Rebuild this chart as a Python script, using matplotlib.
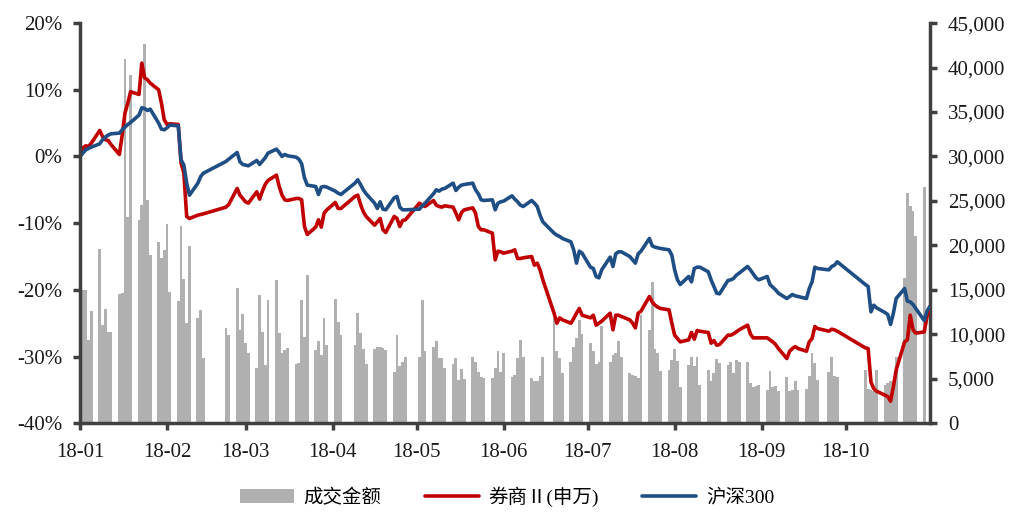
import numpy as np
import pandas as pd
import matplotlib
matplotlib.use("Agg")
import matplotlib.pyplot as plt
import matplotlib.dates as mdates
from matplotlib.ticker import FuncFormatter, MultipleLocator

plt.rcParams['font.family'] = ['Liberation Serif', 'Noto Sans CJK SC', 'DejaVu Sans']

# 交易日（2018-01 ~ 2018-10）
holidays = ["2018-02-15", "2018-02-16", "2018-02-19", "2018-02-20", "2018-02-21",
            "2018-04-05", "2018-04-06", "2018-04-30", "2018-05-01", "2018-06-18",
            "2018-09-24", "2018-10-01", "2018-10-02", "2018-10-03", "2018-10-04", "2018-10-05"]
days = pd.bdate_range("2018-01-02", "2018-10-31")
days = days[~days.isin(pd.to_datetime(holidays))]

# 成交金额（亿元）
turnover = [
    15000, 15000, 9400, 12600, 19600, 11000, 12900, 10300, 10300, 14500, 14600, 41000, 23200, 39200,
    22900, 24500, 42700, 25100, 18900, 20400, 18600, 19500,
    22400, 14800, 13800, 22200, 16200, 11300, 19900, 11800, 12700, 7300, 10700, 9900, 15200, 10500, 12300,
    9000, 7900, 6200, 14400, 10300, 6600, 13900, 16100, 10100, 7900, 8200, 8500, 6700, 6800, 13900,
    9700, 16700, 8200, 9200, 7700, 11800, 8800,
    14000, 11400, 9900, 8800, 12400, 10100, 8400, 6700, 8400, 8600, 8600, 8500, 8200, 5800, 9900, 6400, 6900, 7400,
    7500, 13900, 8100, 8600, 9200, 7300, 7300, 6200, 6700, 7300, 4900, 6100, 5000, 7500, 6900, 5800, 5200, 5100,
    5100, 6200, 8100, 5800,
    7900, 5200, 5400, 7300, 9400, 7500, 5100, 4700, 4700, 5300, 7500, 11800, 8100, 7300, 5600,
    6900, 8600, 9600, 11600, 10000,
    9000, 8100, 6700, 6900, 10900, 6900, 7700, 7900, 9200, 7500, 5700, 5400, 5300, 5100, 12200,
    10500, 15900, 8400, 7900, 5900, 6000, 7100,
    8400, 7000, 4100, 6600, 7500, 6400, 7500, 4300, 6000, 4700, 5600, 7200, 6800, 6600, 6900, 5600, 7100, 6900,
    6900, 4500, 4100, 4200, 4300,
    3700, 5900, 4100, 4200, 3600, 5200, 3600, 3700, 4700, 3700, 3800, 5300, 7900, 6800, 4900, 5800, 7400, 5300, 5200,
    6000, 3800, 3700, 3600, 6000, 4300, 4500, 4700, 4600, 7400, 16300, 25900, 24400, 23900, 21000,
    26600, np.nan, np.nan,
]

# 券商Ⅱ(申万) 累计涨跌幅（%）
broker = [
    1.3, 1.6, 1.5, 2.0, 3.9, 3.0, 2.5, 2.4, 1.8, 0.3, 3.2, 6.5, 8.0, 9.7, 9.3, 14.0, 11.8, 11.5, 11.0, 10.0, 8.0, 5.5,
    4.8, 4.9, 4.8, -1.0, -2.5, -9.0, -9.3, -8.8, -8.7, -8.6, -7.6, -7.2, -4.8, -5.8, -6.3,
    -6.8, -7.0, -5.3, -6.4, -5.2, -4.2, -3.6, -2.8, -4.5, -5.8, -6.5, -6.6, -6.3, -6.3, -6.5, -10.5, -11.7,
    -10.6, -9.5, -10.6, -8.5, -8.0,
    -6.9, -7.8, -7.8, -6.0, -5.8, -7.2, -8.3, -9.0, -10.3, -9.8, -9.3, -11.0, -11.4, -9.0, -9.3, -10.5, -9.6, -9.5,
    -7.0, -7.3, -7.5, -6.6, -7.3, -7.5, -7.6, -7.4, -7.6, -8.5, -9.5, -8.4, -8.0, -7.7, -8.5, -10.5, -11.0, -11.0,
    -11.5, -15.5, -14.2, -14.3,
    -14.5, -14.2, -14.0, -15.3, -15.3, -15.2, -15.0, -16.3, -16.0, -17.0, -18.5, -23.5, -25.0, -24.2, -24.5,
    -25.0, -24.3, -23.5, -22.8, -23.8,
    -24.2, -23.8, -25.3, -25.0, -24.7, -23.5, -26.0, -23.8, -23.8, -24.0, -24.5, -25.0, -25.7, -23.5, -23.2,
    -21.0, -21.8, -22.3, -22.6, -22.8, -23.0, -25.0,
    -26.8, -27.3, -27.8, -27.5, -26.4, -27.4, -26.1, -26.2, -26.4, -28.0, -27.6, -28.3, -28.2, -26.8, -26.8,
    -26.6, -26.3, -26.0, -25.3, -26.6, -27.2, -27.2, -27.2,
    -27.2, -27.5, -27.8, -28.2, -28.8, -30.3, -29.2, -28.8, -28.5, -28.8, -29.2, -27.8, -27.3, -25.5, -25.8,
    -26.2, -25.9, -26.0, -26.2,
    -28.7, -28.8, -33.8, -34.8, -35.2, -35.8, -36.0, -36.7, -34.5, -32.0, -27.8, -27.5, -23.8, -26.0, -26.5,
    -26.3, -24.0, -22.5,
]

# 沪深300 累计涨跌幅（%）
hs300 = [
    0.5, 1.0, 1.2, 1.4, 1.9, 2.5, 2.9, 3.2, 3.4, 3.5, 4.0, 4.4, 4.8, 5.1, 6.2, 7.3, 7.2, 6.9, 7.1, 5.0, 4.1, 4.0,
    4.3, 4.7, 4.6, -0.5, -1.3, -4.0, -5.8, -4.0, -3.0, -2.5, -0.75, -0.4, 0.6, -0.8, -1.2,
    -1.3, -1.4, -0.6, -1.2, -0.7, -0.2, 0.5, 1.1, 0.6, 0.0, 0.3, 0.1, -0.1, -0.4, -1.1, -3.2, -4.3,
    -4.5, -5.7, -4.6, -4.5, -4.6,
    -5.2, -5.5, -5.7, -4.0, -3.5, -4.2, -5.0, -5.6, -7.0, -7.8, -6.8, -7.9, -8.0, -6.2, -6.0, -7.6, -8.0, -8.0,
    -7.9, -7.4, -7.0, -5.6, -5.0, -5.2, -4.9, -4.8, -4.0, -5.1, -4.6, -4.3, -4.2, -4.0, -5.0, -5.6, -6.5, -6.6,
    -6.5, -8.0, -7.0, -6.8,
    -6.7, -5.9, -6.4, -6.8, -7.3, -7.5, -6.6, -7.0, -7.5, -8.8, -9.8, -11.5, -11.8, -12.0, -12.3,
    -12.8, -14.0, -16.0, -14.2, -14.5,
    -16.6, -16.8, -18.0, -18.2, -17.0, -15.1, -16.5, -14.6, -14.3, -14.3, -15.0, -15.5, -16.0, -14.6, -14.2,
    -12.3, -13.4, -13.6, -13.7, -13.8, -14.0, -14.8,
    -17.0, -18.5, -19.2, -18.0, -18.8, -16.8, -16.6, -16.6, -17.3, -18.5, -19.5, -20.5, -20.6, -18.6, -18.5,
    -18.3, -17.8, -17.5, -16.5, -17.0, -17.6, -18.2, -18.5,
    -18.0, -19.2, -19.6, -20.0, -20.5, -21.3, -21.0, -20.7, -20.9, -21.0, -21.3, -19.8, -18.8, -16.6, -16.8,
    -17.0, -16.5, -16.3, -15.8,
    -19.2, -19.5, -23.3, -22.3, -22.7, -23.4, -23.7, -25.2, -23.5, -21.3, -19.8, -21.7, -21.8, -22.2, -22.8,
    -24.6, -23.2, -22.5,
]

# 起点 0%
line_days = [pd.Timestamp("2018-01-01")] + list(days)
broker_line = [0.0] + broker
hs300_line = [0.0] + hs300

fig = plt.figure(figsize=(10.14, 5.13), dpi=100)
ax = fig.add_axes([0.079, 0.175, 0.838, 0.780])
ax2 = ax.twinx()

ax2.bar(days, turnover, width=1.0, color="#b0b0b0", label="成交金额")
l1, = ax.plot(line_days, broker_line, color="#c00000", lw=2.6, label="券商Ⅱ(申万)",
              solid_joinstyle="round", solid_capstyle="round")
l2, = ax.plot(line_days, hs300_line, color="#1f4e85", lw=2.6, label="沪深300",
              solid_joinstyle="round", solid_capstyle="round")

ax.set_zorder(ax2.get_zorder() + 1)
ax.patch.set_visible(False)

ax.set_ylim(-40, 20)
ax.yaxis.set_major_locator(MultipleLocator(10))
ax.yaxis.set_major_formatter(FuncFormatter(lambda v, p: f"{v:.0f}%"))
ax2.set_ylim(0, 45000)
ax2.yaxis.set_major_locator(MultipleLocator(5000))
ax2.yaxis.set_major_formatter(FuncFormatter(lambda v, p: f"{v:,.0f}"))

ax.set_xlim(pd.Timestamp("2018-01-01"), pd.Timestamp("2018-10-31"))
ax.xaxis.set_major_locator(mdates.MonthLocator())
ax.xaxis.set_major_formatter(mdates.DateFormatter("%y-%m"))

spine_c = "#404040"
for a in (ax, ax2):
    a.spines["top"].set_visible(False)
    for s in ("left", "right", "bottom"):
        a.spines[s].set_color(spine_c)
        a.spines[s].set_linewidth(2.5)
ax.spines["right"].set_visible(False)
ax2.spines["left"].set_visible(False)
ax2.spines["bottom"].set_visible(False)

ax.tick_params(axis="y", length=5, width=2.5, color=spine_c, labelsize=15, pad=8, labelcolor="#1a1a1a")
ax.tick_params(axis="x", length=5, width=2.5, color=spine_c, labelsize=15, pad=9, labelcolor="#1a1a1a")
ax2.tick_params(axis="y", length=5, width=2.5, color=spine_c, labelsize=15, pad=8, labelcolor="#1a1a1a")

handles = [ax2.containers[0], l1, l2]
fig.legend(handles, [h.get_label() for h in handles], loc="lower center", ncol=3,
           bbox_to_anchor=(0.5, -0.022), frameon=False, fontsize=14,
           handlelength=2.8, handleheight=0.7, columnspacing=2.2, handletextpad=0.5)

fig.savefig("out.png", dpi=100)
